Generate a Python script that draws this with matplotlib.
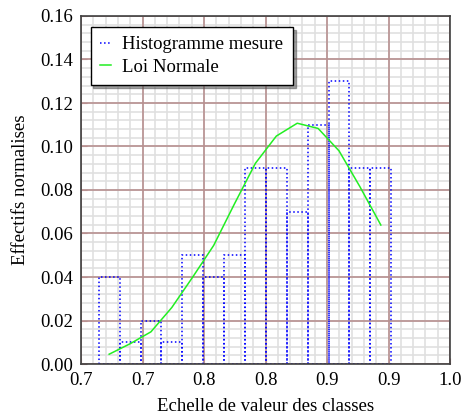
import matplotlib
matplotlib.use("Agg")
import matplotlib.pyplot as plt
from matplotlib.ticker import MultipleLocator, FixedLocator, FixedFormatter, NullLocator
from matplotlib.lines import Line2D

plt.rcParams['font.family'] = ['Liberation Serif', 'DejaVu Serif']

bin_left = 0.7144
bin_width = 0.01699
hist_values = [0.04, 0.01, 0.02, 0.01, 0.05, 0.04, 0.05, 0.09, 0.09, 0.07, 0.11, 0.13, 0.09, 0.09]
normal_values = [0.0045, 0.0093, 0.0148, 0.026, 0.040, 0.0545, 0.0737, 0.0923, 0.1048, 0.1107,
                 0.1083, 0.098, 0.0815, 0.0639]
xtick_pos = [0.70, 0.75, 0.80, 0.85, 0.90, 0.95, 1.00]
xtick_labels = ["0.7", "0.7", "0.8", "0.8", "0.9", "0.9", "1.0"]
ytick_pos = [0.00, 0.02, 0.04, 0.06, 0.08, 0.10, 0.12, 0.14, 0.16]
ytick_labels = ["0.00", "0.02", "0.04", "0.06", "0.08", "0.10", "0.12", "0.14", "0.16"]
legend_labels = ['Histogramme mesure', 'Loi Normale']

lefts = [bin_left + i * bin_width for i in range(len(hist_values))]
centers = [l + bin_width / 2 for l in lefts]

FS = 13.5
rect = [81 / 462, 1 - 364 / 415, (450 - 81) / 462, (364 - 16) / 415]
fig = plt.figure(figsize=(4.62, 4.15), dpi=100)

# background axes carrying the light minor grid
bg = fig.add_axes(rect, zorder=0)
bg.set_xlim(0.70, 1.00)
bg.set_ylim(0.0, 0.16)
bg.xaxis.set_major_locator(MultipleLocator(0.01))
bg.yaxis.set_major_locator(MultipleLocator(0.004))
bg.grid(True, color='#e0e0e0', linewidth=1.2)
bg.tick_params(length=0, labelbottom=False, labelleft=False)
for s in bg.spines.values():
    s.set_visible(False)

ax = fig.add_axes(rect, zorder=1)
ax.patch.set_alpha(0)
ax.set_xlim(0.70, 1.00)
ax.set_ylim(0.0, 0.16)

ax.xaxis.set_major_locator(FixedLocator(xtick_pos))
ax.xaxis.set_major_formatter(FixedFormatter(xtick_labels))
ax.yaxis.set_major_locator(FixedLocator(ytick_pos))
ax.yaxis.set_major_formatter(FixedFormatter(ytick_labels))
ax.xaxis.set_minor_locator(NullLocator())
ax.yaxis.set_minor_locator(NullLocator())

ax.grid(which='major', color='#b89090', linewidth=1.2)
ax.set_axisbelow(True)

ax.tick_params(which='major', direction='in', length=4, color='#b89090', labelsize=FS, pad=6)
for s in ax.spines.values():
    s.set_color('#404040')
    s.set_linewidth(1.2)

ax.bar(lefts, hist_values, width=bin_width, align='edge', fill=False,
       edgecolor='blue', linestyle=':', linewidth=1.1, zorder=2)
ax.plot(centers, normal_values, color='#22ee22', linewidth=1.1, zorder=3)

handles = [Line2D([], [], color='blue', linestyle=':', linewidth=1.1),
           Line2D([], [], color='#22ee22', linewidth=1.1)]
leg = ax.legend(handles, legend_labels, loc='upper left',
                bbox_to_anchor=(0.026, 0.969), borderaxespad=0, fontsize=FS, fancybox=False,
                shadow=True, framealpha=1, edgecolor='black', handlelength=0.6,
                handletextpad=0.6, borderpad=0.5, labelspacing=0.3)
leg.get_frame().set_linewidth(1.0)

ax.set_xlabel('Echelle de valeur des classes', fontsize=FS, labelpad=6)
ax.set_ylabel('Effectifs normalises', fontsize=FS, labelpad=8)

fig.savefig('out.png', dpi=100)
